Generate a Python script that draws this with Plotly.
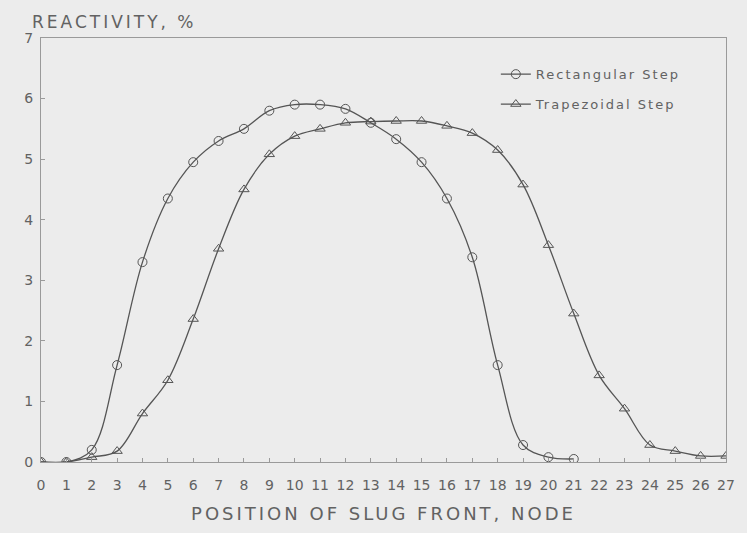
import plotly.graph_objects as go

nodes = list(range(0, 28))
rect_x = list(range(0, 22))
rect_y = [0.0, 0.0, 0.2, 1.6, 3.3, 4.35, 4.95, 5.3, 5.5, 5.8, 5.9, 5.9, 5.83, 5.6,
          5.33, 4.95, 4.35, 3.38, 1.6, 0.28, 0.08, 0.05]
trap_x = list(range(0, 28))
trap_y = [0.0, 0.0, 0.08, 0.18, 0.8, 1.35, 2.36, 3.52, 4.5, 5.08, 5.38, 5.5, 5.6, 5.62,
          5.63, 5.63, 5.55, 5.43, 5.15, 4.58, 3.58, 2.45, 1.43, 0.88, 0.28, 0.18, 0.1, 0.1]
y_ticks = [0, 1, 2, 3, 4, 5, 6, 7]

ink = "#555555"
txt = "#626262"
bg = "#ececec"
fam = "DejaVu Sans, Liberation Sans, sans-serif"


def spaced(s, px):
    return '<span style="letter-spacing:%spx">%s</span>' % (px, s)


fig = go.Figure()
fig.add_trace(go.Scatter(
    x=rect_x, y=rect_y, name=spaced("Rectangular Step", 2), mode="lines+markers",
    line=dict(color=ink, width=1.3, shape="spline", smoothing=1.0),
    marker=dict(symbol="circle-open", size=9, color=ink, line=dict(width=1)),
    legendgroup="a"))
fig.add_trace(go.Scatter(
    x=trap_x, y=trap_y, name=spaced("Trapezoidal Step", 2), mode="lines+markers",
    line=dict(color=ink, width=1.3, shape="spline", smoothing=1.0),
    marker=dict(symbol="triangle-up-open", size=9, color=ink, line=dict(width=1)),
    legendgroup="b"))

fig.update_layout(
    width=747, height=533,
    margin=dict(l=41, r=15, t=38, b=71),
    paper_bgcolor=bg, plot_bgcolor=bg,
    font=dict(family=fam, color=txt, size=13),
    showlegend=True,
    legend=dict(x=0.664, y=0.95, xanchor="left", yanchor="top",
                bgcolor="rgba(0,0,0,0)", tracegroupgap=10,
                font=dict(size=13, color=txt, family=fam), itemwidth=30),
    xaxis=dict(range=[0, 27], tickmode="array", tickvals=nodes,
               ticktext=[str(n) for n in nodes],
               showgrid=False, zeroline=False, showline=True, mirror=True,
               linecolor="#9a9a9a", linewidth=1, ticks="inside", ticklen=4,
               tickcolor="#9a9a9a", tickfont=dict(size=14, color=txt, family=fam),
               ticklabelstandoff=10,
               title=dict(text=spaced("POSITION OF SLUG FRONT, NODE", 3),
                          font=dict(size=18, color=txt, family=fam), standoff=15)),
    yaxis=dict(range=[0, 7], tickmode="array", tickvals=y_ticks,
               ticktext=[str(v) for v in y_ticks],
               showgrid=False, zeroline=False, showline=True, mirror=True,
               linecolor="#9a9a9a", linewidth=1, ticks="inside", ticklen=4,
               tickcolor="#9a9a9a", tickfont=dict(size=14, color=txt, family=fam),
               ticklabelstandoff=4),
    annotations=[dict(text=spaced("REACTIVITY, %", 3), xref="paper", yref="paper",
                      x=-0.016, y=1.0, xanchor="left", yanchor="bottom",
                      yshift=4, showarrow=False,
                      font=dict(size=17, color=txt, family=fam))],
)

fig.write_html("out.html")
